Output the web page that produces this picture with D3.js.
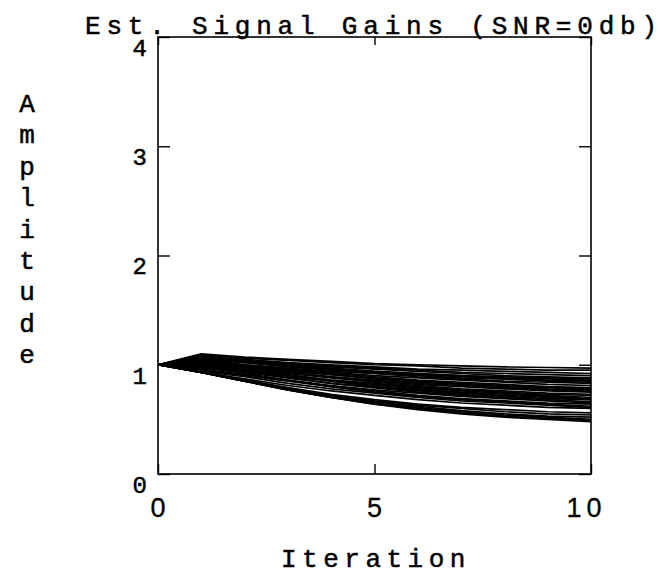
<!DOCTYPE html>
<html>
<head>
<meta charset="UTF-8"/>
<script src="https://d3js.org/d3.v7.min.js"></script>
<style>
  body { margin: 0; background: #fff; }
  svg text { font-family: "Liberation Mono", "DejaVu Sans Mono", monospace; fill: #000; stroke: #000; stroke-width: 0.5px; }
</style>
</head>
<body>
<script>
  // iterations 0..10 and the estimated gain of each signal
  var iterations = [0, 1, 2, 3, 4, 5, 6, 7, 8, 9, 10];
  var xTicks = [0, 5, 10];
  var yTicks = [0, 1, 2, 3, 4];

  var g01 = [1, 1.10, 1.07, 1.05, 1.03, 1.01, 1.00, 0.99, 0.98, 0.975, 0.97];
  var g02 = [1, 1.09, 1.06, 1.04, 1.02, 1.00, 0.99, 0.97, 0.96, 0.95, 0.95];
  var g03 = [1, 1.08, 1.05, 1.02, 1.00, 0.98, 0.96, 0.95, 0.94, 0.93, 0.92];
  var g04 = [1, 1.07, 1.04, 1.01, 0.99, 0.97, 0.95, 0.93, 0.92, 0.91, 0.90];
  var g05 = [1, 1.06, 1.03, 1.00, 0.98, 0.96, 0.94, 0.92, 0.90, 0.89, 0.88];
  var g06 = [1, 1.05, 1.02, 0.99, 0.96, 0.94, 0.92, 0.90, 0.88, 0.87, 0.86];
  var g07 = [1, 1.06, 1.02, 0.98, 0.95, 0.92, 0.90, 0.88, 0.87, 0.86, 0.85];
  var g08 = [1, 1.04, 1.00, 0.97, 0.94, 0.92, 0.89, 0.87, 0.85, 0.84, 0.83];
  var g09 = [1, 1.03, 0.99, 0.96, 0.93, 0.90, 0.88, 0.86, 0.84, 0.82, 0.81];
  var g10 = [1, 1.05, 1.00, 0.96, 0.92, 0.89, 0.86, 0.84, 0.82, 0.80, 0.79];
  var g11 = [1, 1.02, 0.98, 0.94, 0.91, 0.88, 0.85, 0.83, 0.81, 0.79, 0.78];
  var g12 = [1, 1.01, 0.97, 0.93, 0.89, 0.86, 0.83, 0.81, 0.79, 0.77, 0.76];
  var g13 = [1, 1.03, 0.98, 0.93, 0.89, 0.85, 0.82, 0.80, 0.78, 0.76, 0.75];
  var g14 = [1, 1.00, 0.96, 0.92, 0.88, 0.84, 0.81, 0.78, 0.76, 0.74, 0.73];
  var g15 = [1, 0.99, 0.95, 0.90, 0.86, 0.83, 0.80, 0.77, 0.75, 0.73, 0.72];
  var g16 = [1, 1.02, 0.96, 0.91, 0.86, 0.82, 0.79, 0.76, 0.74, 0.72, 0.70];
  var g17 = [1, 0.98, 0.94, 0.89, 0.85, 0.81, 0.78, 0.75, 0.73, 0.71, 0.69];
  var g18 = [1, 0.97, 0.93, 0.88, 0.83, 0.79, 0.76, 0.73, 0.71, 0.69, 0.68];
  var g19 = [1, 1.00, 0.94, 0.88, 0.83, 0.79, 0.75, 0.72, 0.70, 0.68, 0.66];
  var g20 = [1, 0.96, 0.91, 0.86, 0.81, 0.77, 0.74, 0.71, 0.69, 0.67, 0.65];
  var g21 = [1, 0.95, 0.90, 0.85, 0.80, 0.76, 0.72, 0.69, 0.67, 0.65, 0.64];
  var g22 = [1, 0.98, 0.92, 0.86, 0.80, 0.75, 0.71, 0.68, 0.66, 0.64, 0.62];
  var g23 = [1, 0.94, 0.89, 0.83, 0.78, 0.74, 0.70, 0.67, 0.65, 0.63, 0.61];
  var g24 = [1, 0.93, 0.87, 0.81, 0.76, 0.72, 0.68, 0.65, 0.63, 0.61, 0.60];
  var g25 = [1, 0.93, 0.86, 0.79, 0.73, 0.68, 0.64, 0.61, 0.59, 0.57, 0.56];
  var g26 = [1, 0.93, 0.85, 0.78, 0.72, 0.67, 0.63, 0.60, 0.57, 0.55, 0.54];
  var g27 = [1, 0.93, 0.85, 0.78, 0.71, 0.66, 0.62, 0.58, 0.55, 0.53, 0.52];
  var g28 = [1, 0.93, 0.85, 0.77, 0.70, 0.65, 0.61, 0.57, 0.54, 0.52, 0.50];
  var g29 = [1, 0.93, 0.85, 0.77, 0.70, 0.64, 0.60, 0.56, 0.53, 0.51, 0.49];
  var g30 = [1, 0.93, 0.85, 0.77, 0.70, 0.64, 0.59, 0.55, 0.52, 0.50, 0.48];
  var g31 = [1, 1.08, 1.04, 1.00, 0.97, 0.94, 0.92, 0.90, 0.89, 0.88, 0.87];
  var g32 = [1, 1.04, 0.99, 0.95, 0.91, 0.87, 0.84, 0.82, 0.80, 0.78, 0.77];
  var g33 = [1, 1.01, 0.95, 0.90, 0.85, 0.80, 0.77, 0.74, 0.72, 0.70, 0.68];
  var g34 = [1, 1.06, 1.03, 0.99, 0.96, 0.93, 0.91, 0.89, 0.87, 0.85, 0.84];

  var gains = [g01, g02, g03, g04, g05, g06, g07, g08, g09, g10, g11, g12,
               g13, g14, g15, g16, g17, g18, g19, g20, g21, g22, g23, g24,
               g25, g26, g27, g28, g29, g30, g31, g32, g33, g34];

  var W = 668, H = 579;
  var plotLeft = 158, plotRight = 591, plotTop = 37, plotBottom = 474;

  var x = d3.scaleLinear().domain([0, 10]).range([plotLeft, plotRight]);
  var y = d3.scaleLinear().domain([0, 4]).range([plotBottom, plotTop]);

  var svg = d3.select("body").append("svg")
    .attr("width", W)
    .attr("height", H);

  // the curves
  var line = d3.line()
    .x(function(d, i) { return x(iterations[i]); })
    .y(function(d) { return y(d); });

  svg.append("g")
    .selectAll("path")
    .data(gains)
    .enter().append("path")
    .attr("d", line)
    .attr("fill", "none")
    .attr("stroke", "#000")
    .attr("stroke-width", 1.7);

  // frame
  svg.append("rect")
    .attr("x", plotLeft).attr("y", plotTop)
    .attr("width", plotRight - plotLeft).attr("height", plotBottom - plotTop)
    .attr("fill", "none")
    .attr("stroke", "#000")
    .attr("stroke-width", 1.6);

  // axes, ticks pointing inward
  var xAxis = svg.append("g")
    .attr("transform", "translate(0," + plotBottom + ")")
    .call(d3.axisBottom(x).tickValues(xTicks).tickSizeInner(-10).tickSizeOuter(0).tickPadding(23));
  var yAxis = svg.append("g")
    .attr("transform", "translate(" + plotLeft + ",0)")
    .call(d3.axisLeft(y).tickValues(yTicks).tickFormat(d3.format("d"))
      .tickSizeInner(-12).tickSizeOuter(0).tickPadding(11));
  svg.append("g")
    .attr("transform", "translate(0," + plotTop + ")")
    .call(d3.axisTop(x).tickValues(xTicks).tickSizeInner(-8).tickSizeOuter(0).tickFormat(""));
  svg.append("g")
    .attr("transform", "translate(" + plotRight + ",0)")
    .call(d3.axisRight(y).tickValues(yTicks).tickSizeInner(-12).tickSizeOuter(0).tickFormat(""));

  svg.selectAll(".domain").remove();
  svg.selectAll(".tick line").attr("stroke", "#000").attr("stroke-width", 1.4);

  xAxis.selectAll("text")
    .style("font-family", "'Liberation Sans', Arial, sans-serif")
    .style("font-size", "27px")
    .style("letter-spacing", "5px")
    .style("stroke-width", "0.3px")
    .attr("dy", "0.74em")
    .attr("dx", function(d) { return d === 10 ? "-5px" : "2px"; });
  yAxis.selectAll("text")
    .style("font-size", "24px")
    .attr("dy", "0.76em");

  // title
  svg.append("text")
    .attr("x", 85)
    .attr("y", 34)
    .style("font-size", "26px")
    .style("letter-spacing", "5.8px")
    .text("Est. Signal Gains (SNR=0db)");

  // x label
  svg.append("text")
    .attr("x", 281)
    .attr("y", 567)
    .style("font-size", "26px")
    .style("letter-spacing", "5.5px")
    .text("Iteration");

  // y label, one letter under the other
  var yLabel = "Amplitude".split("");
  svg.append("g")
    .selectAll("text")
    .data(yLabel)
    .enter().append("text")
    .attr("x", 27)
    .attr("y", function(d, i) { return 112 + i * 31.4; })
    .attr("text-anchor", "middle")
    .style("font-size", "26px")
    .text(function(d) { return d; });
</script>
</body>
</html>
